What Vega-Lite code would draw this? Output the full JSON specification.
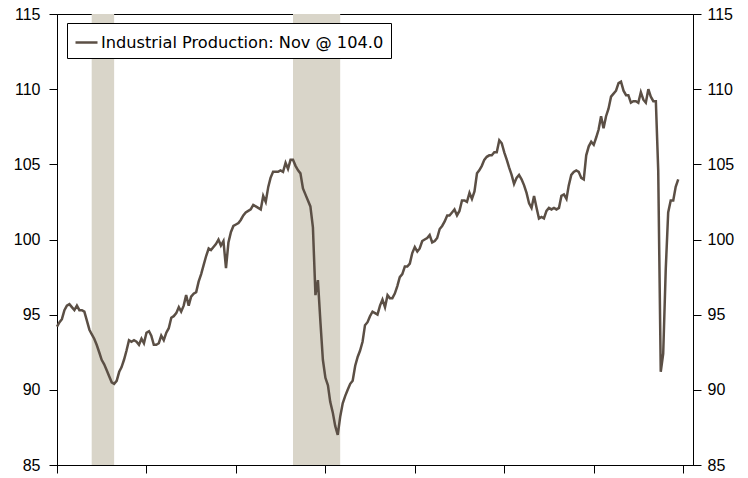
{
  "$schema": "https://vega.github.io/schema/vega-lite/v6.json",
  "width": 636,
  "height": 451,
  "autosize": {"type": "none"},
  "padding": {"left": 57, "top": 14, "right": 55, "bottom": 13},
  "background": "white",
  "config": {
    "view": {"stroke": "#000", "strokeWidth": 1},
    "axis": {"domainColor": "#000", "tickColor": "#000", "labelFont": "Liberation Sans", "labelFontSize": 16, "labelColor": "#000", "grid": false}
  },
  "datasets": {
    "rec": [
      {"s": "2001-03-01", "e": "2001-12-01"},
      {"s": "2007-12-01", "e": "2009-07-01"}
    ],
    "ip": [
      {"d":"2000-01-01","v":94.2},{"d":"2000-02-01","v":94.5},{"d":"2000-03-01","v":94.7},{"d":"2000-04-01","v":95.3},{"d":"2000-05-01","v":95.6},{"d":"2000-06-01","v":95.7},{"d":"2000-07-01","v":95.5},{"d":"2000-08-01","v":95.3},{"d":"2000-09-01","v":95.6},{"d":"2000-10-01","v":95.3},{"d":"2000-11-01","v":95.3},{"d":"2000-12-01","v":95.2},
      {"d":"2001-01-01","v":94.6},{"d":"2001-02-01","v":94.0},{"d":"2001-03-01","v":93.7},{"d":"2001-04-01","v":93.4},{"d":"2001-05-01","v":93.0},{"d":"2001-06-01","v":92.5},{"d":"2001-07-01","v":92.0},{"d":"2001-08-01","v":91.7},{"d":"2001-09-01","v":91.3},{"d":"2001-10-01","v":90.9},{"d":"2001-11-01","v":90.5},{"d":"2001-12-01","v":90.4},
      {"d":"2002-01-01","v":90.6},{"d":"2002-02-01","v":91.2},{"d":"2002-03-01","v":91.5},{"d":"2002-04-01","v":92.0},{"d":"2002-05-01","v":92.6},{"d":"2002-06-01","v":93.3},{"d":"2002-07-01","v":93.2},{"d":"2002-08-01","v":93.3},{"d":"2002-09-01","v":93.2},{"d":"2002-10-01","v":93.0},{"d":"2002-11-01","v":93.4},{"d":"2002-12-01","v":93.1},
      {"d":"2003-01-01","v":93.8},{"d":"2003-02-01","v":93.9},{"d":"2003-03-01","v":93.6},{"d":"2003-04-01","v":93.0},{"d":"2003-05-01","v":93.0},{"d":"2003-06-01","v":93.1},{"d":"2003-07-01","v":93.6},{"d":"2003-08-01","v":93.3},{"d":"2003-09-01","v":93.8},{"d":"2003-10-01","v":94.1},{"d":"2003-11-01","v":94.8},{"d":"2003-12-01","v":94.9},
      {"d":"2004-01-01","v":95.1},{"d":"2004-02-01","v":95.5},{"d":"2004-03-01","v":95.2},{"d":"2004-04-01","v":95.6},{"d":"2004-05-01","v":96.3},{"d":"2004-06-01","v":95.6},{"d":"2004-07-01","v":96.2},{"d":"2004-08-01","v":96.4},{"d":"2004-09-01","v":96.5},{"d":"2004-10-01","v":97.2},{"d":"2004-11-01","v":97.7},{"d":"2004-12-01","v":98.3},
      {"d":"2005-01-01","v":98.9},{"d":"2005-02-01","v":99.4},{"d":"2005-03-01","v":99.3},{"d":"2005-04-01","v":99.5},{"d":"2005-05-01","v":99.7},{"d":"2005-06-01","v":100.0},{"d":"2005-07-01","v":99.6},{"d":"2005-08-01","v":99.9},{"d":"2005-09-01","v":98.1},{"d":"2005-10-01","v":99.8},{"d":"2005-11-01","v":100.5},{"d":"2005-12-01","v":100.9},
      {"d":"2006-01-01","v":101.0},{"d":"2006-02-01","v":101.1},{"d":"2006-03-01","v":101.3},{"d":"2006-04-01","v":101.6},{"d":"2006-05-01","v":101.8},{"d":"2006-06-01","v":101.9},{"d":"2006-07-01","v":102.0},{"d":"2006-08-01","v":102.3},{"d":"2006-09-01","v":102.2},{"d":"2006-10-01","v":102.1},{"d":"2006-11-01","v":102.0},{"d":"2006-12-01","v":102.9},
      {"d":"2007-01-01","v":102.5},{"d":"2007-02-01","v":103.5},{"d":"2007-03-01","v":104.1},{"d":"2007-04-01","v":104.5},{"d":"2007-05-01","v":104.5},{"d":"2007-06-01","v":104.5},{"d":"2007-07-01","v":104.6},{"d":"2007-08-01","v":104.5},{"d":"2007-09-01","v":105.1},{"d":"2007-10-01","v":104.7},{"d":"2007-11-01","v":105.3},{"d":"2007-12-01","v":105.3},
      {"d":"2008-01-01","v":104.9},{"d":"2008-02-01","v":104.6},{"d":"2008-03-01","v":104.4},{"d":"2008-04-01","v":103.4},{"d":"2008-05-01","v":103.0},{"d":"2008-06-01","v":102.6},{"d":"2008-07-01","v":102.2},{"d":"2008-08-01","v":100.8},{"d":"2008-09-01","v":96.3},{"d":"2008-10-01","v":97.3},{"d":"2008-11-01","v":94.5},{"d":"2008-12-01","v":92.0},
      {"d":"2009-01-01","v":90.8},{"d":"2009-02-01","v":90.3},{"d":"2009-03-01","v":89.2},{"d":"2009-04-01","v":88.5},{"d":"2009-05-01","v":87.6},{"d":"2009-06-01","v":87.0},{"d":"2009-07-01","v":88.2},{"d":"2009-08-01","v":89.1},{"d":"2009-09-01","v":89.6},{"d":"2009-10-01","v":90.0},{"d":"2009-11-01","v":90.4},{"d":"2009-12-01","v":90.6},
      {"d":"2010-01-01","v":91.6},{"d":"2010-02-01","v":92.2},{"d":"2010-03-01","v":92.6},{"d":"2010-04-01","v":93.2},{"d":"2010-05-01","v":94.3},{"d":"2010-06-01","v":94.5},{"d":"2010-07-01","v":94.9},{"d":"2010-08-01","v":95.2},{"d":"2010-09-01","v":95.1},{"d":"2010-10-01","v":95.0},{"d":"2010-11-01","v":95.6},{"d":"2010-12-01","v":96.0},
      {"d":"2011-01-01","v":95.5},{"d":"2011-02-01","v":96.3},{"d":"2011-03-01","v":96.1},{"d":"2011-04-01","v":96.1},{"d":"2011-05-01","v":96.4},{"d":"2011-06-01","v":96.9},{"d":"2011-07-01","v":97.5},{"d":"2011-08-01","v":97.7},{"d":"2011-09-01","v":98.2},{"d":"2011-10-01","v":98.2},{"d":"2011-11-01","v":98.4},{"d":"2011-12-01","v":99.1},
      {"d":"2012-01-01","v":99.5},{"d":"2012-02-01","v":99.2},{"d":"2012-03-01","v":99.4},{"d":"2012-04-01","v":99.9},{"d":"2012-05-01","v":100.0},{"d":"2012-06-01","v":100.1},{"d":"2012-07-01","v":100.3},{"d":"2012-08-01","v":99.8},{"d":"2012-09-01","v":99.9},{"d":"2012-10-01","v":100.1},{"d":"2012-11-01","v":100.7},{"d":"2012-12-01","v":100.9},
      {"d":"2013-01-01","v":101.2},{"d":"2013-02-01","v":101.6},{"d":"2013-03-01","v":101.6},{"d":"2013-04-01","v":101.8},{"d":"2013-05-01","v":102.0},{"d":"2013-06-01","v":101.6},{"d":"2013-07-01","v":101.9},{"d":"2013-08-01","v":102.6},{"d":"2013-09-01","v":102.6},{"d":"2013-10-01","v":102.5},{"d":"2013-11-01","v":103.1},{"d":"2013-12-01","v":102.7},
      {"d":"2014-01-01","v":103.2},{"d":"2014-02-01","v":104.4},{"d":"2014-03-01","v":104.6},{"d":"2014-04-01","v":104.9},{"d":"2014-05-01","v":105.3},{"d":"2014-06-01","v":105.5},{"d":"2014-07-01","v":105.6},{"d":"2014-08-01","v":105.6},{"d":"2014-09-01","v":105.8},{"d":"2014-10-01","v":105.8},{"d":"2014-11-01","v":106.6},{"d":"2014-12-01","v":106.4},
      {"d":"2015-01-01","v":105.8},{"d":"2015-02-01","v":105.3},{"d":"2015-03-01","v":104.8},{"d":"2015-04-01","v":104.3},{"d":"2015-05-01","v":103.7},{"d":"2015-06-01","v":104.1},{"d":"2015-07-01","v":104.3},{"d":"2015-08-01","v":104.0},{"d":"2015-09-01","v":103.6},{"d":"2015-10-01","v":103.1},{"d":"2015-11-01","v":102.4},{"d":"2015-12-01","v":102.1},
      {"d":"2016-01-01","v":102.9},{"d":"2016-02-01","v":102.1},{"d":"2016-03-01","v":101.4},{"d":"2016-04-01","v":101.5},{"d":"2016-05-01","v":101.4},{"d":"2016-06-01","v":101.9},{"d":"2016-07-01","v":102.1},{"d":"2016-08-01","v":102.0},{"d":"2016-09-01","v":102.1},{"d":"2016-10-01","v":102.0},{"d":"2016-11-01","v":102.1},{"d":"2016-12-01","v":102.9},
      {"d":"2017-01-01","v":103.0},{"d":"2017-02-01","v":102.7},{"d":"2017-03-01","v":103.6},{"d":"2017-04-01","v":104.3},{"d":"2017-05-01","v":104.5},{"d":"2017-06-01","v":104.6},{"d":"2017-07-01","v":104.5},{"d":"2017-08-01","v":104.1},{"d":"2017-09-01","v":104.0},{"d":"2017-10-01","v":105.6},{"d":"2017-11-01","v":106.2},{"d":"2017-12-01","v":106.5},
      {"d":"2018-01-01","v":106.3},{"d":"2018-02-01","v":106.8},{"d":"2018-03-01","v":107.3},{"d":"2018-04-01","v":108.2},{"d":"2018-05-01","v":107.4},{"d":"2018-06-01","v":108.2},{"d":"2018-07-01","v":108.7},{"d":"2018-08-01","v":109.5},{"d":"2018-09-01","v":109.7},{"d":"2018-10-01","v":109.9},{"d":"2018-11-01","v":110.4},{"d":"2018-12-01","v":110.5},
      {"d":"2019-01-01","v":109.9},{"d":"2019-02-01","v":109.6},{"d":"2019-03-01","v":109.6},{"d":"2019-04-01","v":109.1},{"d":"2019-05-01","v":109.2},{"d":"2019-06-01","v":109.2},{"d":"2019-07-01","v":109.1},{"d":"2019-08-01","v":109.8},{"d":"2019-09-01","v":109.3},{"d":"2019-10-01","v":109.1},{"d":"2019-11-01","v":110.0},{"d":"2019-12-01","v":109.5},
      {"d":"2020-01-01","v":109.2},{"d":"2020-02-01","v":109.2},{"d":"2020-03-01","v":104.6},{"d":"2020-04-01","v":91.2},{"d":"2020-05-01","v":92.4},{"d":"2020-06-01","v":98.0},{"d":"2020-07-01","v":101.8},{"d":"2020-08-01","v":102.6},{"d":"2020-09-01","v":102.6},{"d":"2020-10-01","v":103.5},{"d":"2020-11-01","v":104.0}
    ]
  },
  "layer": [
    {
      "data": {"name": "rec"},
      "mark": {"type": "rect", "color": "#d9d5c9"},
      "encoding": {
        "x": {"field": "s", "type": "temporal", "title": null,
          "scale": {"type": "utc", "domain": [{"year": 2000, "month": 1, "date": 1, "utc": true}, {"year": 2021, "month": 5, "date": 1, "utc": true}], "nice": false},
          "axis": {"values": [{"year": 2000, "month": 1, "date": 1, "utc": true}, {"year": 2003, "month": 1, "date": 1, "utc": true}, {"year": 2006, "month": 1, "date": 1, "utc": true}, {"year": 2009, "month": 1, "date": 1, "utc": true}, {"year": 2012, "month": 1, "date": 1, "utc": true}, {"year": 2015, "month": 1, "date": 1, "utc": true}, {"year": 2018, "month": 1, "date": 1, "utc": true}, {"year": 2021, "month": 1, "date": 1, "utc": true}], "labels": false, "tickSize": 8, "grid": false, "title": null}},
        "x2": {"field": "e"}
      }
    },
    {
      "data": {"name": "ip"},
      "mark": {"type": "line", "strokeWidth": 2.5},
      "encoding": {
        "x": {"field": "d", "type": "temporal", "title": null},
        "y": {"field": "v", "type": "quantitative", "title": null,
          "scale": {"domain": [85, 115], "nice": false, "zero": false},
          "axis": {"orient": "left", "values": [85, 90, 95, 100, 105, 110, 115], "tickSize": 8, "labelPadding": 9, "labelFlush": false, "labelFont": "Liberation Sans", "title": null}},
        "color": {"datum": "Industrial Production: Nov @ 104.0", "type": "nominal",
          "scale": {"range": ["#5b4f45"]},
          "legend": {"orient": "none", "legendX": 10, "legendY": 9, "title": null, "strokeColor": "#000", "fillColor": "#fff", "padding": 7, "symbolType": "stroke", "symbolSize": 484, "symbolStrokeWidth": 2.5, "labelFont": "DejaVu Sans", "labelFontSize": 16.2, "labelColor": "#000", "labelOffset": 2, "labelLimit": 500}}
      }
    },
    {
      "data": {"name": "ip"},
      "mark": {"type": "line", "strokeOpacity": 0, "color": "#5b4f45"},
      "encoding": {
        "x": {"field": "d", "type": "temporal", "title": null},
        "y": {"field": "v", "type": "quantitative", "title": null,
          "axis": {"orient": "right", "values": [85, 90, 95, 100, 105, 110, 115], "tickSize": 8, "labelPadding": 6, "labelFlush": false, "labelFont": "Liberation Sans", "title": null}}
      }
    }
  ],
  "resolve": {"axis": {"y": "independent"}}
}
